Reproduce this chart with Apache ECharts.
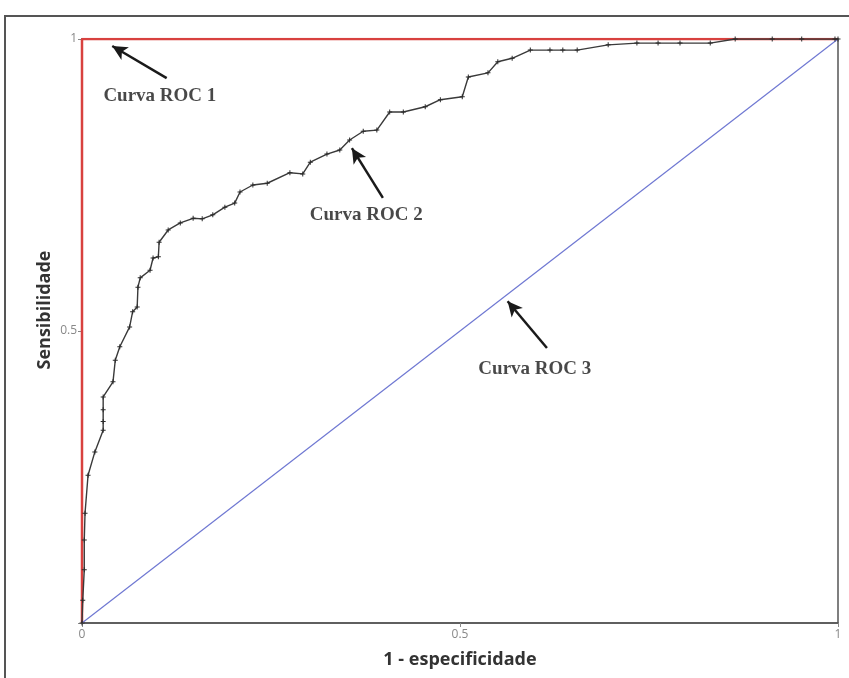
<!DOCTYPE html>
<html>
<head>
<meta charset="utf-8">
<script src="https://cdn.jsdelivr.net/npm/echarts@6/dist/echarts.min.js"></script>
<style>
  html, body { margin: 0; padding: 0; background: #fff; }
  #chart { width: 849px; height: 678px; }
</style>
</head>
<body>
<div id="chart"></div>
<script>
// Curva ROC 1: classificador perfeito (sobe pelo eixo e segue pelo topo)
const roc1X = [0, 0, 1];
const roc1Y = [0, 1, 1];

// Curva ROC 3: classificador aleatório (diagonal)
const roc3X = [0, 1];
const roc3Y = [0, 1];

// Curva ROC 2: pontos (1 - especificidade, sensibilidade)
const roc2X = [0, 0.001, 0.003, 0.003, 0.004, 0.008, 0.017, 0.028, 0.028, 0.028, 0.028, 0.041, 0.044, 0.050, 0.063, 0.067,
  0.073, 0.074, 0.077, 0.090, 0.094, 0.101, 0.102, 0.114, 0.130, 0.147, 0.159, 0.173, 0.189, 0.202, 0.209, 0.226,
  0.245, 0.275, 0.292, 0.302, 0.324, 0.341, 0.354, 0.372, 0.390, 0.407, 0.425, 0.454, 0.474, 0.503, 0.511, 0.537,
  0.550, 0.569, 0.593, 0.619, 0.636, 0.655, 0.696, 0.734, 0.762, 0.791, 0.831, 0.864, 0.913, 0.952, 0.996, 1];
const roc2Y = [0, 0.039, 0.091, 0.142, 0.188, 0.253, 0.293, 0.330, 0.345, 0.365, 0.387, 0.413, 0.450, 0.473, 0.507, 0.533,
  0.541, 0.575, 0.591, 0.604, 0.625, 0.627, 0.652, 0.673, 0.685, 0.693, 0.692, 0.699, 0.712, 0.719, 0.738, 0.750,
  0.753, 0.771, 0.769, 0.789, 0.803, 0.810, 0.827, 0.842, 0.844, 0.875, 0.875, 0.884, 0.896, 0.901, 0.935, 0.942,
  0.961, 0.967, 0.981, 0.981, 0.981, 0.981, 0.990, 0.993, 0.993, 0.993, 0.993, 1, 1, 1, 1, 1];

// Rótulos dos eixos
const xTickLabels = { 0: '0', 0.5: '0.5', 1: '1' };
const yTickLabels = { 0: '', 0.5: '0.5', 1: '1' };

// Anotações: texto, posição do texto, início e ponta da seta
const noteNames = ['Curva ROC 1', 'Curva ROC 2', 'Curva ROC 3'];
const noteTextX = [0.103, 0.376, 0.599];
const noteTextY = [0.902, 0.699, 0.435];
const arrowFromX = [0.112, 0.398, 0.615];
const arrowFromY = [0.933, 0.728, 0.471];
const arrowToX = [0.040, 0.357, 0.563];
const arrowToY = [0.988, 0.813, 0.551];

const zip = (xs, ys) => xs.map((x, i) => [x, ys[i]]);

const chart = echarts.init(document.getElementById('chart'), null, { renderer: 'canvas' });

chart.setOption({
  animation: false,
  backgroundColor: '#fff',
  grid: {
    left: 82, right: 11, top: 39, bottom: 55,
    show: true, borderColor: '#555', borderWidth: 1.5, backgroundColor: 'transparent'
  },
  xAxis: {
    type: 'value', min: 0, max: 1, interval: 0.5,
    axisLine: { show: true, lineStyle: { color: '#555', width: 1.5 } },
    axisTick: { show: true, length: 4, lineStyle: { color: '#888' } },
    splitLine: { show: false },
    axisLabel: {
      color: '#888', fontSize: 12, fontFamily: 'Open Sans', margin: 6,
      formatter: v => xTickLabels[v] !== undefined ? xTickLabels[v] : ''
    }
  },
  yAxis: {
    type: 'value', min: 0, max: 1, interval: 0.5,
    axisLine: { show: true, lineStyle: { color: '#555', width: 1.5 } },
    axisTick: { show: true, length: 4, lineStyle: { color: '#888' } },
    splitLine: { show: false },
    axisLabel: {
      color: '#888', fontSize: 12, fontFamily: 'Open Sans', margin: 5,
      formatter: v => yTickLabels[v] !== undefined ? yTickLabels[v] : ''
    }
  },
  graphic: [
    {
      type: 'rect', silent: true, z: 100,
      shape: { x: 5, y: 16, width: 900, height: 700 },
      style: { fill: 'none', stroke: '#555', lineWidth: 2 }
    },
    {
      type: 'text', silent: true,
      x: 45, y: 310, rotation: Math.PI / 2,
      style: {
        text: 'Sensibilidade', fill: '#333', font: 'bold 18px "Open Sans"',
        align: 'center', verticalAlign: 'middle'
      }
    },
    {
      type: 'text', silent: true,
      x: 460, y: 660,
      style: {
        text: '1 - especificidade', fill: '#333', font: 'bold 18px "Open Sans"',
        align: 'center', verticalAlign: 'middle'
      }
    }
  ],
  series: [
    {
      name: 'Curva ROC 1', type: 'line', data: zip(roc1X, roc1Y),
      symbol: 'none', z: 2,
      lineStyle: { color: '#d8413f', width: 2.5 }
    },
    {
      name: 'Curva ROC 3', type: 'line', data: zip(roc3X, roc3Y),
      symbol: 'none', z: 3,
      lineStyle: { color: '#6f78d2', width: 1.2 }
    },
    {
      name: 'Curva ROC 2', type: 'line', data: zip(roc2X, roc2Y),
      symbol: 'path://M0,2H5V3H0Z M2,0H3V5H2Z', symbolSize: 5, showAllSymbol: true, z: 4,
      itemStyle: { color: '#2a2a2a' },
      lineStyle: { color: '#3a3a3a', width: 1.4 },
      markLine: {
        silent: true, symbol: ['none', 'arrow'], symbolSize: [11, 15],
        label: { show: false },
        lineStyle: { color: '#1a1a1a', width: 2.5, type: 'solid' },
        data: noteNames.map((n, i) => [
          { coord: [arrowFromX[i], arrowFromY[i]] },
          { coord: [arrowToX[i], arrowToY[i]] }
        ])
      }
    },
    {
      name: 'anotacoes', type: 'scatter', symbolSize: 0, z: 5,
      data: noteNames.map((n, i) => ({ name: n, value: [noteTextX[i], noteTextY[i]] })),
      label: {
        show: true, position: 'inside', formatter: p => p.name,
        color: '#1a1a1a', fontSize: 19, fontWeight: 'bold', fontFamily: '"Liberation Serif", "Times New Roman", serif'
      }
    }
  ]
});
</script>
</body>
</html>
